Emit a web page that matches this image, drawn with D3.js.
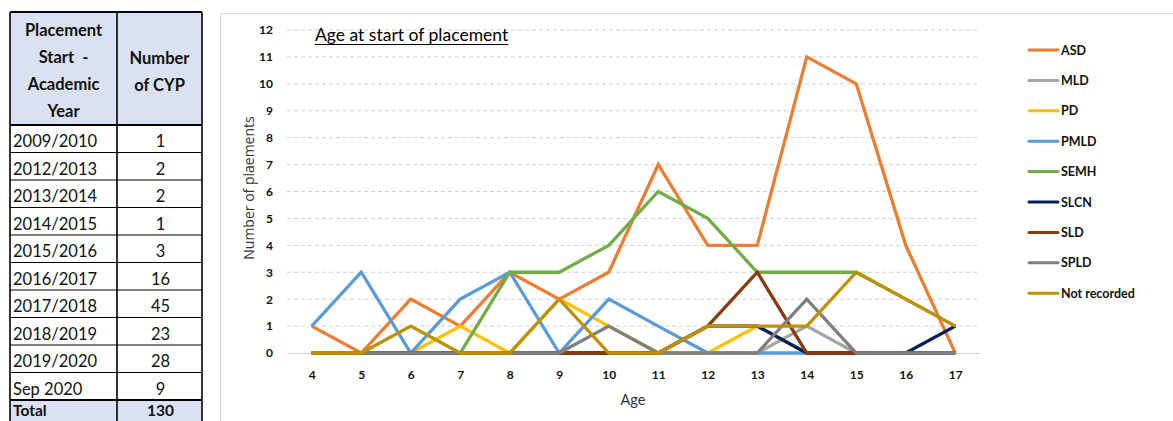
<!DOCTYPE html>
<html>
<head>
<meta charset="utf-8">
<script src="https://cdn.jsdelivr.net/npm/d3@7"></script>
<style>
  body { margin: 0; background: #fff; }
  svg text { font-family: Lato, "Liberation Sans", sans-serif; }
</style>
</head>
<body>
<div id="chart"></div>
<script>
// table data
const years = ["2009/2010", "2012/2013", "2013/2014", "2014/2015", "2015/2016", "2016/2017",
  "2017/2018", "2018/2019", "2019/2020", "Sep 2020"];
const cypCounts = [1, 2, 2, 1, 3, 16, 45, 23, 28, 9];
const cypTotal = 130;

// chart data
const ages = [4, 5, 6, 7, 8, 9, 10, 11, 12, 13, 14, 15, 16, 17];
const seriesNames = ["ASD", "MLD", "PD", "PMLD", "SEMH", "SLCN", "SLD", "SPLD", "Not recorded"];
const asd = [1, 0, 2, 1, 3, 2, 3, 7, 4, 4, 11, 10, 4, 0];
const mld = [0, 0, 0, 0, 0, 0, 0, 0, 0, 0, 1, 0, 0, 0];
const pd = [0, 0, 0, 1, 0, 2, 1, 0, 0, 1, 0, 0, 0, 0];
const pmld = [1, 3, 0, 2, 3, 0, 2, 1, 0, 0, 0, 0, 0, 0];
const semh = [0, 0, 0, 0, 3, 3, 4, 6, 5, 3, 3, 3, 2, 1];
const slcn = [0, 0, 0, 0, 0, 0, 0, 0, 1, 1, 0, 0, 0, 1];
const sld = [0, 0, 0, 0, 0, 0, 0, 0, 1, 3, 0, 0, 0, 0];
const spld = [0, 0, 0, 0, 0, 0, 1, 0, 0, 0, 2, 0, 0, 0];
const notRecorded = [0, 0, 1, 0, 0, 2, 0, 0, 1, 1, 1, 3, 2, 1];
const seriesValues = [asd, mld, pd, pmld, semh, slcn, sld, spld, notRecorded];
const colors = ["#ED7D31", "#A5A5A5", "#FFC000", "#5B9BD5", "#70AD47", "#002060", "#843C0C", "#7F7F7F", "#BF9000"];
const yTicks = [0, 1, 2, 3, 4, 5, 6, 7, 8, 9, 10, 11, 12];

const svgWidth = 1173;
const svgHeight = 421;

const svg = d3.select("#chart")
  .append("svg")
  .attr("width", svgWidth)
  .attr("height", svgHeight);

// ---------- table ----------
const tbl = { left: 10, mid: 117, right: 202, top: 12, headBottom: 125, rowH: 27.5 };
const table = svg.append("g");

const rowTop = i => tbl.headBottom + i * tbl.rowH;
const totalTop = rowTop(years.length);

// header + total fills
table.append("rect")
  .attr("x", tbl.left).attr("y", tbl.top)
  .attr("width", tbl.right - tbl.left).attr("height", tbl.headBottom - tbl.top)
  .attr("fill", "#D9E1F2");
table.append("rect")
  .attr("x", tbl.left).attr("y", totalTop)
  .attr("width", tbl.right - tbl.left).attr("height", 40)
  .attr("fill", "#D9E1F2");

// horizontal lines
const hLines = [tbl.top, tbl.headBottom].concat(years.map((d, i) => rowTop(i + 1)));
table.selectAll(".hline")
  .data(hLines)
  .enter()
  .append("line")
  .attr("x1", tbl.left).attr("x2", tbl.right)
  .attr("y1", d => d).attr("y2", d => d)
  .attr("stroke", "#000")
  .attr("stroke-width", (d, i) => (i === 0 || i === 1 || i === hLines.length - 1) ? 1.8 : 1);

// vertical lines
[tbl.left, tbl.mid, tbl.right].forEach(x => {
  table.append("line")
    .attr("x1", x).attr("x2", x)
    .attr("y1", tbl.top).attr("y2", svgHeight + 5)
    .attr("stroke", "#000")
    .attr("stroke-width", 1.6);
});

// header text
const head1 = ["Placement", "Start  -", "Academic", "Year"];
const head2 = ["Number", "of CYP"];
head1.forEach((t, i) => {
  table.append("text")
    .attr("x", (tbl.left + tbl.mid) / 2).attr("y", 36 + i * 27)
    .attr("text-anchor", "middle")
    .attr("font-size", 16.5).attr("font-weight", "bold")
    .attr("fill", "#111")
    .style("white-space", "pre")
    .text(t);
});
head2.forEach((t, i) => {
  table.append("text")
    .attr("x", (tbl.mid + tbl.right) / 2).attr("y", 64 + i * 27)
    .attr("text-anchor", "middle")
    .attr("font-size", 16.5).attr("font-weight", "bold")
    .attr("fill", "#111")
    .text(t);
});

// rows
years.forEach((y, i) => {
  table.append("text")
    .attr("x", tbl.left + 3).attr("y", rowTop(i) + 22)
    .attr("font-size", 16.5).attr("fill", "#111")
    .text(y);
  table.append("text")
    .attr("x", (tbl.mid + tbl.right) / 2 + 1).attr("y", rowTop(i) + 22)
    .attr("text-anchor", "middle")
    .attr("font-size", 16.5).attr("fill", "#111")
    .text(cypCounts[i]);
});
table.append("text")
  .attr("x", tbl.left + 3).attr("y", totalTop + 15.5)
  .attr("font-size", 15.5).attr("font-weight", "bold").attr("fill", "#111")
  .text("Total");
table.append("text")
  .attr("x", (tbl.mid + tbl.right) / 2 + 1).attr("y", totalTop + 15.5)
  .attr("text-anchor", "middle")
  .attr("font-size", 15.5).attr("font-weight", "bold").attr("fill", "#111")
  .text(cypTotal);

// ---------- chart ----------
// chart frame
svg.append("rect")
  .attr("x", 220.5).attr("y", 13.5)
  .attr("width", 1000).attr("height", 450)
  .attr("fill", "none")
  .attr("stroke", "#D9D9D9");

const plot = { left: 287, right: 980, top: 30, bottom: 353 };

const xScale = d3.scalePoint()
  .domain(ages)
  .range([plot.left, plot.right])
  .padding(0.5);

const yScale = d3.scaleLinear()
  .domain([0, 12])
  .range([plot.bottom, plot.top]);

const chartGroup = svg.append("g");

// gridlines
chartGroup.selectAll(".grid")
  .data(yTicks.filter(d => d > 0))
  .enter()
  .append("line")
  .attr("x1", plot.left).attr("x2", plot.right)
  .attr("y1", d => yScale(d)).attr("y2", d => yScale(d))
  .attr("stroke", "#CFCFCF")
  .attr("stroke-width", 1)
  .attr("stroke-dasharray", "4,3");

// y axis labels
const leftAxis = d3.axisLeft(yScale).tickValues(yTicks).tickSize(0).tickPadding(0);
const yAxis = chartGroup.append("g")
  .attr("transform", "translate(273, 0)")
  .call(leftAxis);
yAxis.select(".domain").remove();
yAxis.selectAll("text")
  .attr("font-size", 12).attr("font-weight", "bold").attr("fill", "#111")
  .attr("font-family", "Lato, Liberation Sans, sans-serif");

// x axis
const bottomAxis = d3.axisBottom(xScale).tickSize(0).tickPadding(0);
const xAxis = chartGroup.append("g")
  .attr("transform", `translate(0, ${plot.bottom})`)
  .call(bottomAxis);
xAxis.select(".domain")
  .attr("stroke", "#D0D0D0")
  .attr("stroke-width", 1.2);
xAxis.selectAll("text")
  .attr("y", 26).attr("dy", 0)
  .attr("font-size", 12).attr("font-weight", "bold").attr("fill", "#111")
  .attr("font-family", "Lato, Liberation Sans, sans-serif");

// lines
const line = d3.line()
  .x((d, i) => xScale(ages[i]))
  .y(d => yScale(d));

chartGroup.selectAll(".series")
  .data(seriesValues)
  .enter()
  .append("path")
  .attr("d", d => line(d))
  .attr("fill", "none")
  .attr("stroke", (d, i) => colors[i])
  .attr("stroke-width", 3.3)
  .attr("stroke-linejoin", "miter");

// title
const title = svg.append("text")
  .attr("x", 315).attr("y", 41)
  .attr("font-size", 17.5).attr("fill", "#000")
  .text("Age at start of placement");
const tw = title.node().getComputedTextLength();
svg.append("line")
  .attr("x1", 315).attr("x2", 315 + tw)
  .attr("y1", 44.5).attr("y2", 44.5)
  .attr("stroke", "#000").attr("stroke-width", 1.2);

// axis titles
svg.append("text")
  .attr("transform", "translate(254, 188) rotate(-90)")
  .attr("text-anchor", "middle")
  .attr("font-size", 14).attr("fill", "#333")
  .style("font-family", "'Open Sans', sans-serif")
  .text("Number of plaements");

svg.append("text")
  .attr("x", 633).attr("y", 405)
  .attr("text-anchor", "middle")
  .attr("font-size", 14.5).attr("fill", "#333")
  .text("Age");

// legend
const legend = svg.append("g")
  .attr("transform", "translate(1029, 50)");
const legendItems = legend.selectAll(".item")
  .data(seriesNames)
  .enter()
  .append("g")
  .attr("transform", (d, i) => `translate(0, ${i * 30.4})`);
legendItems.append("line")
  .attr("x1", 0).attr("x2", 29)
  .attr("stroke", (d, i) => colors[i])
  .attr("stroke-width", 3)
  .attr("stroke-linecap", "round");
legendItems.append("text")
  .attr("x", 32).attr("y", 4.5)
  .attr("font-size", 12.5).attr("font-weight", "bold").attr("fill", "#111")
  .text(d => d);
</script>
</body>
</html>
